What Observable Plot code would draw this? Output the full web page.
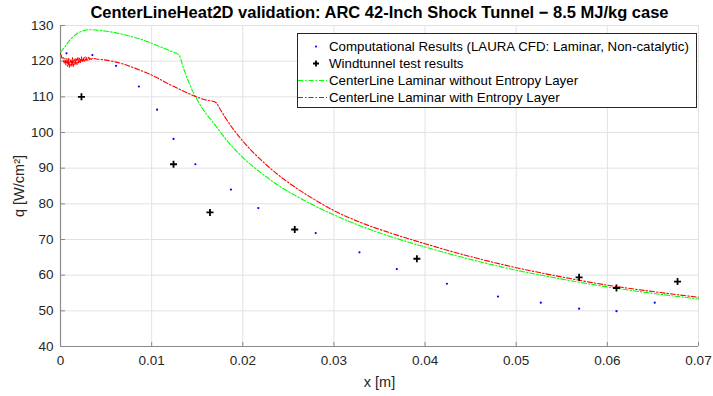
<!DOCTYPE html>
<html>
<head>
<meta charset="utf-8">
<script src="https://cdn.jsdelivr.net/npm/d3@7"></script>
<script src="https://cdn.jsdelivr.net/npm/@observablehq/plot@0.6"></script>
<style>
  body { margin: 0; background: #fff; font-family: "Liberation Sans", Arial, sans-serif; }
  #wrap { position: relative; width: 713px; height: 396px; overflow: hidden; }
  .legend { position: absolute; left: 297px; top: 33px; width: 400px; height: 75px;
            border: 1px solid #262626; background: #fff; box-sizing: border-box;
            font-size: 13.3px; color: #000; }
  .legend .row { position: absolute; left: 0; height: 17px; display: flex; align-items: center; white-space: nowrap; }
  .legend svg { width: 30px; height: 17px; flex: none; }
  .legend span { margin-left: 1px; }
</style>
</head>
<body>
<div id="wrap"></div>
<script>
// Heat flux along the centerline, ARC 42-inch shock tunnel, 8.5 MJ/kg

const title = "CenterLineHeat2D validation: ARC 42-Inch Shock Tunnel \u2212 8.5 MJ/kg case";
const xLabel = "x [m]";
const yLabel = "q [W/cm\u00b2]";

// LAURA CFD (laminar, non-catalytic)
const cfdX = [0.00066, 0.0035, 0.0061, 0.0086, 0.0106, 0.0124, 0.0148, 0.0187, 0.0217,
              0.0280, 0.0328, 0.0369, 0.0424, 0.0480, 0.0527, 0.0569, 0.0610, 0.0652];
const cfdQ = [122.2, 121.7, 118.7, 112.9, 106.4, 98.2, 91.1, 84.0, 78.8,
              71.8, 66.4, 61.7, 57.6, 54.0, 52.3, 50.6, 49.9, 52.3];

// Wind tunnel measurements
const tunnelX = [0.0023, 0.0124, 0.0164, 0.0257, 0.0391, 0.0569, 0.0610, 0.0677];
const tunnelQ = [110.0, 91.1, 77.6, 72.8, 64.6, 59.4, 56.4, 58.2];

// CenterLine, laminar, no entropy layer
const noEntropyX = [0, 0.0005, 0.001, 0.0015, 0.002, 0.0025, 0.003, 0.0035, 0.004, 0.005,
                    0.006, 0.007, 0.008, 0.009, 0.010, 0.011, 0.012, 0.013, 0.0135, 0.014,
                    0.0145, 0.015, 0.0155, 0.016, 0.017, 0.018, 0.019, 0.020, 0.022, 0.024,
                    0.026, 0.028, 0.030, 0.033, 0.036, 0.040, 0.045, 0.050, 0.055, 0.060,
                    0.065, 0.070];
const noEntropyQ = [122.5, 124.1, 125.8, 127.1, 128.0, 128.5, 128.8, 128.8, 128.7, 128.4,
                    128.0, 127.4, 126.7, 126.0, 125.0, 124.0, 122.9, 121.7, 118.0, 114.6,
                    111.6, 109.2, 107.0, 105.2, 102.0, 98.6, 95.6, 93.0, 88.7, 85.0,
                    82.0, 79.3, 76.9, 73.7, 71.0, 67.9, 64.4, 61.4, 58.9, 56.7,
                    54.9, 53.3];

// CenterLine, laminar, with entropy layer (noisy near the stagnation point)
const entropyX = [0, 0.0001, 0.0002, 0.0003, 0.0004, 0.0005, 0.0006, 0.0007, 0.0008, 0.0009,
                  0.0010, 0.0011, 0.0012, 0.0013, 0.0014, 0.0015, 0.0016, 0.0017, 0.0018, 0.0019,
                  0.0020, 0.0021, 0.0022, 0.0023, 0.0024, 0.0025, 0.0026, 0.0027, 0.0028, 0.0029,
                  0.0030, 0.0031, 0.0032, 0.0033, 0.0034, 0.0035, 0.004, 0.005, 0.006, 0.007,
                  0.008, 0.009, 0.010, 0.011, 0.012, 0.013, 0.014, 0.015, 0.016, 0.017,
                  0.0175, 0.018, 0.019, 0.020, 0.021, 0.022, 0.023, 0.024, 0.026, 0.028,
                  0.030, 0.033, 0.036, 0.040, 0.045, 0.050, 0.055, 0.060, 0.065, 0.070];
const entropyQ = [122.2, 121.4, 120.6, 121.0, 119.4, 120.8, 118.9, 120.7, 118.5, 120.9,
                  118.3, 120.4, 118.6, 121.0, 118.4, 120.6, 118.9, 120.9, 119.0, 121.1,
                  119.3, 120.8, 119.6, 121.2, 119.7, 120.9, 119.9, 121.2, 120.1, 121.0,
                  120.2, 121.1, 120.4, 120.9, 120.5, 120.8, 120.6, 120.3, 119.8, 119.1,
                  118.2, 117.2, 116.1, 114.8, 113.4, 112.2, 111.0, 109.9, 109.1, 108.5,
                  106.6, 104.5, 100.8, 97.6, 94.8, 92.3, 90.0, 87.9, 84.2, 81.0,
                  78.1, 74.7, 72.0, 68.8, 65.2, 62.1, 59.5, 57.2, 55.4, 53.8];

const xTicks = [0, 0.01, 0.02, 0.03, 0.04, 0.05, 0.06, 0.07];
const yTicks = [40, 50, 60, 70, 80, 90, 100, 110, 120, 130];

const legendLabels = [
  "Computational Results (LAURA CFD: Laminar, Non-catalytic)",
  "Windtunnel test results",
  "CenterLine Laminar without Entropy Layer",
  "CenterLine Laminar with Entropy Layer"
];

const zip = (xs, ys) => xs.map((x, i) => ({x, q: ys[i]}));
const cfd = zip(cfdX, cfdQ);
const tunnel = zip(tunnelX, tunnelQ);
const noEntropy = zip(noEntropyX, noEntropyQ);
const entropy = zip(entropyX, entropyQ);

const GREEN = "#00ff00", RED = "#ff0000", BLUE = "#0000ff";
const DASH = "5,2,1.5,2";
const fmt = d => d === 0 ? "0" : d3.format(".2f")(d);

const chart = Plot.plot({
  width: 713,
  height: 396,
  marginLeft: 60,
  marginRight: 15,
  marginTop: 25,
  marginBottom: 50,
  style: {fontFamily: "'Liberation Sans', Arial, sans-serif", fontSize: "13.5px", color: "#262626", background: "#fff", overflow: "visible"},
  x: {domain: [0, 0.07]},
  y: {domain: [40, 130]},
  marks: [
    Plot.gridX(xTicks, {stroke: "#e2e2e2", strokeOpacity: 1}),
    Plot.gridY(yTicks, {stroke: "#e2e2e2", strokeOpacity: 1}),
    Plot.ruleX([0], {stroke: "#8a8a8a", strokeWidth: 1.2}),
    Plot.ruleY([40], {stroke: "#8a8a8a", strokeWidth: 1.2}),
    // inward tick marks
    Plot.axisX(xTicks, {text: null, tickSize: 4, dy: -4, stroke: "#8a8a8a", label: null}),
    Plot.axisY(yTicks, {text: null, tickSize: 5, dx: 5, stroke: "#8a8a8a", label: null}),
    // tick labels
    Plot.axisX(xTicks, {tickSize: 0, tickPadding: 9, tickFormat: fmt, label: null, fontSize: 13.5}),
    Plot.axisY(yTicks, {tickSize: 0, tickPadding: 7, label: null, fontSize: 13.5}),
    // axis titles
    Plot.text([xLabel], {frameAnchor: "bottom", lineAnchor: "middle", textAnchor: "middle", dy: 36, fontSize: 14.5, fill: "#262626"}),
    Plot.text([yLabel], {frameAnchor: "left", lineAnchor: "middle", textAnchor: "middle", dx: -41, rotate: -90, fontSize: 14.5, fill: "#262626"}),
    Plot.line(noEntropy, {x: "x", y: "q", stroke: GREEN, strokeWidth: 1.1, strokeDasharray: DASH, curve: "monotone-x"}),
    Plot.line(entropy, {x: "x", y: "q", stroke: RED, strokeWidth: 1.1, strokeDasharray: DASH, curve: "monotone-x"}),
    Plot.dot(cfd, {x: "x", y: "q", r: 1.1, fill: BLUE, stroke: null}),
    Plot.dot(tunnel, {x: "x", y: "q", symbol: "plus", r: 2.4, stroke: "#000", strokeWidth: 1.8}),
    Plot.text([title], {frameAnchor: "top", lineAnchor: "middle", textAnchor: "middle", dy: -13, fontWeight: "bold", fontSize: 16.5, fill: "#000"})
  ]
});

const wrap = document.getElementById("wrap");
wrap.appendChild(chart);

// legend box
const legend = document.createElement("div");
legend.className = "legend";
const swatches = [
  `<circle cx="18" cy="8.5" r="1.1" fill="${BLUE}"/>`,
  `<path d="M15,8.5h6M18,5.5v6" stroke="#000" stroke-width="1.8"/>`,
  `<line x1="0" x2="29" y1="8.5" y2="8.5" stroke="${GREEN}" stroke-width="1.1" stroke-dasharray="${DASH}"/>`,
  `<line x1="0" x2="29" y1="8.5" y2="8.5" stroke="${RED}" stroke-width="1.1" stroke-dasharray="${DASH}"/>`
];
legendLabels.forEach((label, i) => {
  const row = document.createElement("div");
  row.className = "row";
  row.style.top = (3.5 + i * 17) + "px";
  row.innerHTML = `<svg viewBox="0 0 30 17">${swatches[i]}</svg><span>${label}</span>`;
  legend.appendChild(row);
});
wrap.appendChild(legend);
</script>
</body>
</html>
